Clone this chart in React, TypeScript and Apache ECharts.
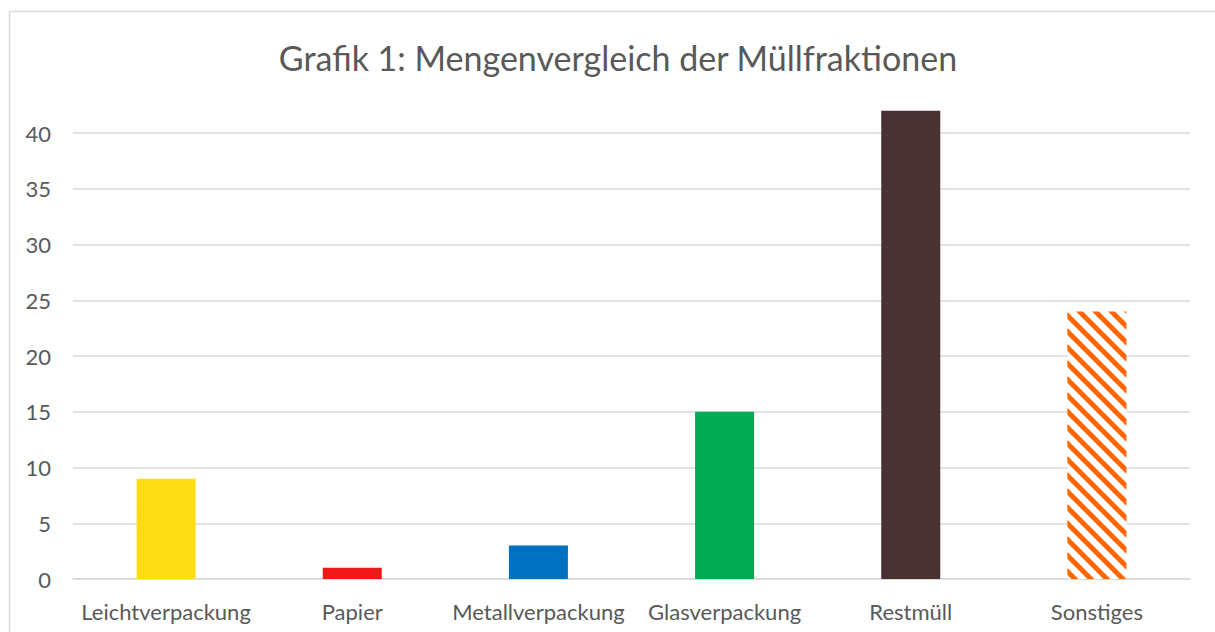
import React, { useEffect, useRef } from "react";
import * as echarts from "echarts";

const categories = ["Leichtverpackung", "Papier", "Metallverpackung", "Glasverpackung", "Restmüll", "Sonstiges"];
const values = [9, 1, 3, 15, 42, 24];
const barColors = ["#FFDC15", "#EE1818", "#0070C0", "#00AB55", "#473133", "hatch"];
const titleText = "Grafik 1: Mengenvergleich der Müllfraktionen";
const FONT = "Lato";

function makeHatch(): HTMLCanvasElement {
  const size = 16;
  const c = document.createElement("canvas");
  c.width = size;
  c.height = size;
  const ctx = c.getContext("2d")!;
  ctx.fillStyle = "#ffffff";
  ctx.fillRect(0, 0, size, size);
  ctx.strokeStyle = "#FF6600";
  ctx.lineWidth = 5;
  for (let k = -1; k <= 1; k++) {
    ctx.beginPath();
    ctx.moveTo(k * size - 2, -2);
    ctx.lineTo(k * size + size + 2, size + 2);
    ctx.stroke();
  }
  return c;
}

export default function App() {
  const ref = useRef<HTMLDivElement>(null);
  useEffect(() => {
    if (!ref.current) return;
    const chart = echarts.init(ref.current, undefined, { renderer: "svg" });
    const hatch = makeHatch();
    chart.setOption({
      animation: false,
      backgroundColor: "#ffffff",
      title: {
        text: titleText,
        left: 613,
        top: 35,
        textAlign: "center",
        textStyle: { fontFamily: FONT, fontSize: 34, fontWeight: "normal", color: "#595959" },
      },
      graphic: [
        {
          type: "rect",
          z: -10,
          shape: { x: 9.5, y: 11.5, width: 1220, height: 640 },
          style: { fill: "none", stroke: "#D9D9D9", lineWidth: 1.5 },
        },
      ],
      grid: { left: 73, right: 25, top: 133, bottom: 53, containLabel: false },
      xAxis: {
        type: "category",
        data: categories,
        axisLine: { show: true, lineStyle: { color: "#D9D9D9", width: 1.5 } },
        axisTick: { show: false },
        axisLabel: { interval: 0, color: "#595959", fontFamily: FONT, fontSize: 22, margin: 21 },
      },
      yAxis: {
        type: "value",
        min: 0,
        max: 40,
        interval: 5,
        axisLine: { show: false },
        axisTick: { show: false },
        splitLine: { lineStyle: { color: "#D9D9D9", width: 1.5 } },
        axisLabel: { color: "#595959", fontFamily: FONT, fontSize: 22, margin: 22 },
      },
      series: [
        {
          type: "bar",
          barWidth: 59,
          clip: false,
          data: values.map((v, i) => ({
            value: v,
            itemStyle: {
              color: barColors[i] === "hatch" ? { image: hatch, repeat: "repeat" } : barColors[i],
            },
          })),
        },
      ],
    });
    return () => chart.dispose();
  }, []);
  return (
    <div
      ref={ref}
      style={{ position: "fixed", left: 0, top: 0, width: 1215, height: 632, background: "#fff" }}
    />
  );
}
